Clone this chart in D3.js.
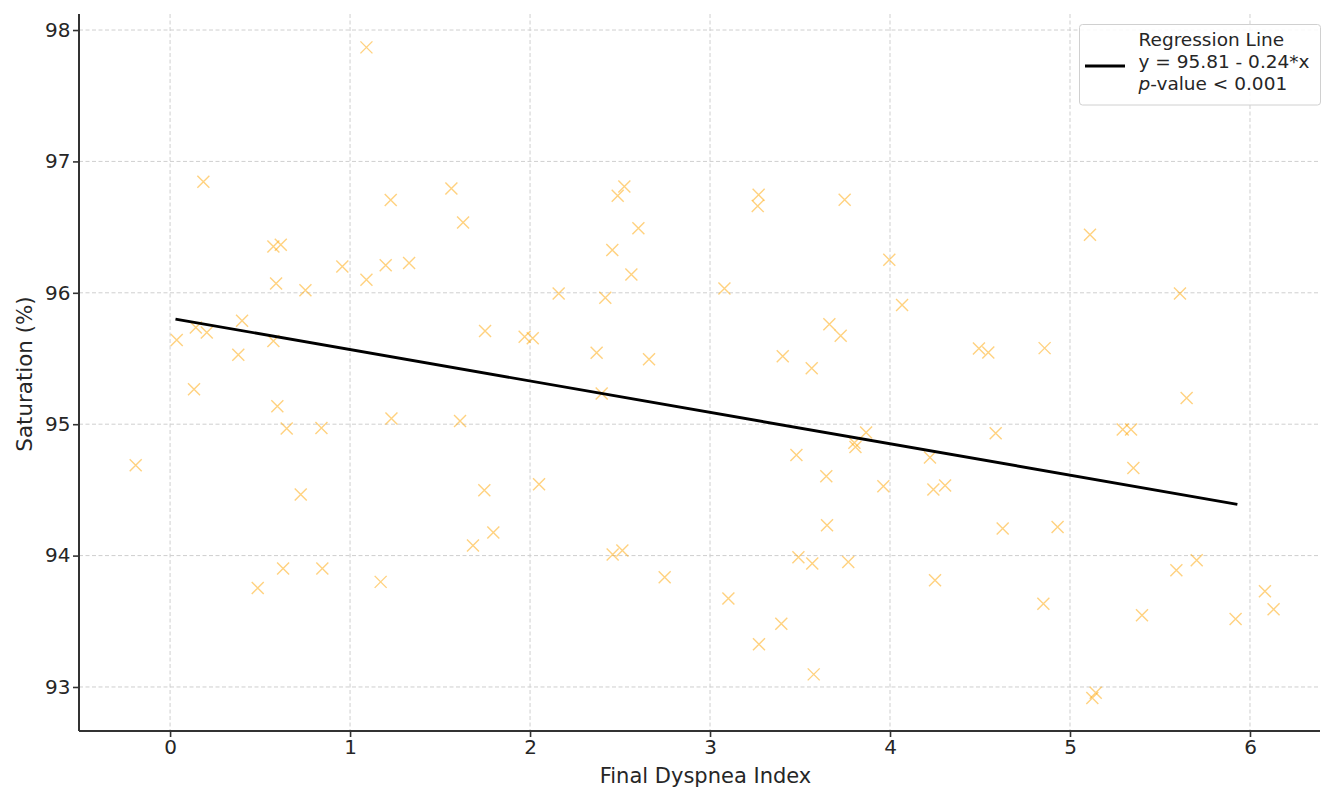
<!DOCTYPE html>
<html>
<head>
<meta charset="utf-8">
<script src="https://cdn.jsdelivr.net/npm/d3@7"></script>
<style>
  html, body { margin: 0; padding: 0; background: #fff; }
  svg { display: block; font-family: "DejaVu Sans", sans-serif; }
</style>
</head>
<body>
<svg id="chart" width="1322" height="789"></svg>
<script>
// ---- data ----
const dyspnea = [
  1.091, 0.185, 1.226, 1.563, 1.628, 0.574, 0.615, 0.957, 1.198, 1.328,
  1.091, 0.589, 0.752, 0.400, 0.143, 0.204, 0.037, 0.574, 0.379, 1.750,
  0.133, 0.596, 0.648, 0.841, 1.230, 1.611, -0.191, 0.726, 1.746, 1.796,
  1.683, 0.628, 0.846, 0.487, 1.170,
  2.524, 2.487, 2.602, 2.457, 2.563, 2.159, 2.418, 1.970, 2.015, 2.370,
  2.661, 3.270, 3.265, 3.748, 3.996, 3.080, 4.067, 3.663, 3.726, 3.404,
  3.565, 2.398, 2.050, 2.459, 2.513, 2.748, 3.102, 3.396, 3.272, 3.576,
  3.867, 3.802, 3.808, 3.480, 3.646, 3.963, 3.650, 3.491, 3.568, 3.768,
  5.111, 5.611, 4.494, 4.546, 4.859, 5.648, 4.587, 5.293, 5.339, 5.352,
  4.222, 4.241, 4.306, 4.626, 4.931, 4.250, 4.852, 5.591, 5.704, 5.400,
  5.920, 6.083, 6.131, 5.143, 5.124
];
const saturation = [
  97.868, 96.845, 96.706, 96.794, 96.536, 96.353, 96.365, 96.200, 96.210, 96.226,
  96.099, 96.071, 96.020, 95.787, 95.736, 95.698, 95.640, 95.634, 95.528, 95.710,
  95.266, 95.137, 94.967, 94.972, 95.043, 95.025, 94.688, 94.465, 94.497, 94.175,
  94.076, 93.901, 93.901, 93.754, 93.800,
  96.810, 96.738, 96.492, 96.325, 96.140, 95.995, 95.962, 95.665, 95.655, 95.543,
  95.495, 96.746, 96.660, 96.708, 96.251, 96.033, 95.908, 95.761, 95.673, 95.518,
  95.426, 95.234, 94.543, 94.008, 94.038, 93.835, 93.673, 93.482, 93.325, 93.096,
  94.937, 94.858, 94.827, 94.766, 94.604, 94.528, 94.231, 93.987, 93.939, 93.952,
  96.441, 95.995, 95.576, 95.546, 95.579, 95.200, 94.931, 94.959, 94.959, 94.667,
  94.746, 94.503, 94.533, 94.206, 94.218, 93.812, 93.634, 93.888, 93.964, 93.546,
  93.518, 93.728, 93.591, 92.957, 92.916
];
const lineX = [0.03, 5.93];
const lineY = [95.80, 94.39];
const xTicks = [0, 1, 2, 3, 4, 5, 6];
const yTicks = [93, 94, 95, 96, 97, 98];
const legendLines = ["Regression Line", "y = 95.81 - 0.24*x", "p-value < 0.001"];
const xLabel = "Final Dyspnea Index";
const yLabel = "Saturation (%)";

// ---- layout ----
const mLeft = 79, mRight = 1320, mTop = 14, mBottom = 731;
const svg = d3.select("#chart");
const x = d3.scaleLinear().domain([-0.506, 6.389]).range([mLeft, mRight]);
const y = d3.scaleLinear().domain([92.665, 98.122]).range([mBottom, mTop]);
const textColor = "#262626";

// grid
const grid = svg.append("g");
grid.selectAll("line.gx").data(xTicks).join("line")
  .attr("x1", d => x(d)).attr("x2", d => x(d))
  .attr("y1", mTop).attr("y2", mBottom)
  .attr("stroke", "#cfcfcf").attr("stroke-width", 1).attr("stroke-dasharray", "4,2.5");
grid.selectAll("line.gy").data(yTicks).join("line")
  .attr("x1", mLeft).attr("x2", mRight)
  .attr("y1", d => y(d)).attr("y2", d => y(d))
  .attr("stroke", "#cfcfcf").attr("stroke-width", 1).attr("stroke-dasharray", "4,2.5");

// points (x markers)
const pts = dyspnea.map((d, i) => ({ x: d, y: saturation[i] }));
const s = 6;
const mk = svg.append("g").attr("stroke", "#FFA500").attr("stroke-opacity", 0.5)
  .attr("stroke-width", 1.4).attr("fill", "none");
mk.selectAll("path").data(pts).join("path")
  .attr("d", d => {
    const cx = x(d.x), cy = y(d.y);
    return `M${cx - s},${cy - s}L${cx + s},${cy + s}M${cx - s},${cy + s}L${cx + s},${cy - s}`;
  });

// regression line
svg.append("path")
  .datum(lineX.map((d, i) => [d, lineY[i]]))
  .attr("d", d3.line().x(d => x(d[0])).y(d => y(d[1])))
  .attr("stroke", "#000").attr("stroke-width", 2.9).attr("fill", "none");

// axes
const xAxis = svg.append("g").attr("transform", `translate(0,${mBottom})`)
  .call(d3.axisBottom(x).tickValues(xTicks).tickFormat(d3.format("d")).tickSize(6).tickPadding(2.5));
const yAxis = svg.append("g").attr("transform", `translate(${mLeft},0)`)
  .call(d3.axisLeft(y).tickValues(yTicks).tickFormat(d3.format("d")).tickSize(6).tickPadding(2.5));
[xAxis, yAxis].forEach(a => {
  a.select(".domain").attr("stroke", "#333").attr("stroke-width", 2);
  a.selectAll(".tick line").attr("stroke", "#333").attr("stroke-width", 1.6);
  a.selectAll(".tick text").attr("fill", textColor).attr("font-size", 20)
    .attr("font-family", "DejaVu Sans, sans-serif");
});
xAxis.select(".domain").attr("d", `M${mLeft},0H${mRight}`);
yAxis.select(".domain").attr("d", `M0,${mBottom}V${mTop}`);

// axis labels
svg.append("text").attr("x", (mLeft + mRight) / 2 + 6).attr("y", 783)
  .attr("text-anchor", "middle").attr("font-size", 21).attr("fill", textColor).text(xLabel);
svg.append("text").attr("transform", `translate(32,374) rotate(-90)`)
  .attr("text-anchor", "middle").attr("font-size", 21.4).attr("fill", textColor).text(yLabel);

// legend
const lg = svg.append("g");
lg.append("rect").attr("x", 1079.5).attr("y", 24.5).attr("width", 241).attr("height", 80.5)
  .attr("rx", 3).attr("fill", "#fff").attr("fill-opacity", 0.85)
  .attr("stroke", "#d0d0d0").attr("stroke-width", 1);
lg.append("line").attr("x1", 1085).attr("x2", 1125).attr("y1", 66).attr("y2", 66)
  .attr("stroke", "#000").attr("stroke-width", 2.9);
const lt = lg.selectAll("text").data(legendLines).join("text")
  .attr("x", 1138.5).attr("y", (d, i) => 46 + i * 22.2)
  .attr("font-size", 18.5).attr("fill", textColor);
lt.each(function(d, i) {
  const t = d3.select(this);
  if (i === 2) {
    t.append("tspan").attr("font-style", "italic").text("p");
    t.append("tspan").text(d.slice(1));
  } else {
    t.text(d);
  }
});
</script>
</body>
</html>
